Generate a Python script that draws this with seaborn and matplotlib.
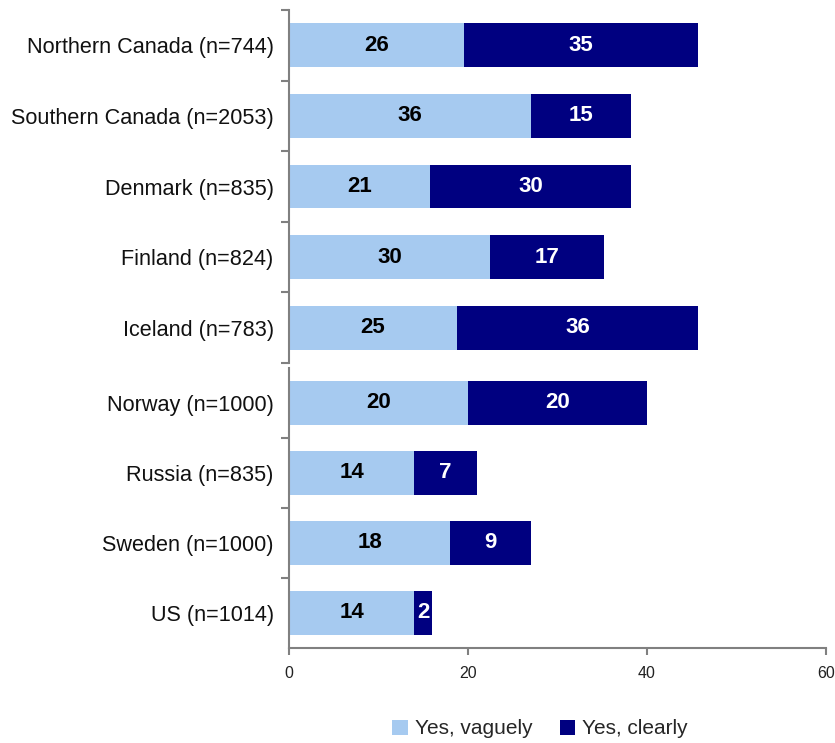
import matplotlib
matplotlib.use("Agg")
import matplotlib.pyplot as plt
from matplotlib.patches import Patch
import seaborn as sns
import pandas as pd

sns.set_style("white")
plt.rcParams["font.family"] = ["Liberation Sans", "DejaVu Sans"]

# ---- data ----
categories_top = ["Northern Canada (n=744)", "Southern Canada (n=2053)", "Denmark (n=835)",
                  "Finland (n=824)", "Iceland (n=783)"]
categories_bottom = ["Norway (n=1000)", "Russia (n=835)", "Sweden (n=1000)", "US (n=1014)"]

vague_labels_top = [26, 36, 21, 30, 25]
clear_labels_top = [35, 15, 30, 17, 36]
vague_labels_bottom = [20, 14, 18, 14]
clear_labels_bottom = [20, 7, 9, 2]

# bar lengths
vague_len_top = [19.5, 27.0, 15.75, 22.5, 18.75]
clear_len_top = [26.25, 11.25, 22.5, 12.75, 27.0]
vague_len_bottom = [20, 14, 18, 14]
clear_len_bottom = [20, 7, 9, 2]

x_ticks = [0, 20, 40, 60]
legend_labels = ["Yes, vaguely", "Yes, clearly"]

LIGHT = "#A6CAF0"
DARK = "#000080"
AXC = "#808080"

W, H = 835, 743
fig = plt.figure(figsize=(W / 100, H / 100), dpi=100)

def make_ax(top_px, bot_px):
    return fig.add_axes([289 / W, 1 - bot_px / H, (826 - 289) / W, (bot_px - top_px) / H])

ax_top = make_ax(10, 363)
ax_bot = make_ax(368, 648)

def draw(ax, cats, vlen, clen, vlab, clab, height):
    df = pd.DataFrame({"cat": cats, "vague": vlen, "total": [a + b for a, b in zip(vlen, clen)]})
    sns.barplot(data=df, y="cat", x="total", color=DARK, width=height, ax=ax,
                saturation=1, orient="h", order=cats)
    sns.barplot(data=df, y="cat", x="vague", color=LIGHT, width=height, ax=ax,
                saturation=1, orient="h", order=cats)
    n = len(cats)
    dark_patches = ax.patches[:n]
    light_patches = ax.patches[n:2 * n]
    for p in ax.patches:
        p.set_edgecolor("none")
    for p, t in zip(light_patches, vlab):
        ax.text(p.get_x() + p.get_width() / 2, p.get_y() + p.get_height() / 2, str(t),
                ha="center", va="center", color="black", fontsize=16, fontweight="bold")
    for pl, pd_, t in zip(light_patches, dark_patches, clab):
        x0 = pl.get_x() + pl.get_width()
        x1 = pd_.get_x() + pd_.get_width()
        ax.text((x0 + x1) / 2, pd_.get_y() + pd_.get_height() / 2, str(t),
                ha="center", va="center", color="white", fontsize=16, fontweight="bold")
    ax.set_xlim(0, 60)
    ax.set_ylim(n - 0.5, -0.5)
    ax.set_xlabel("")
    ax.set_ylabel("")
    for s in ["top", "right"]:
        ax.spines[s].set_visible(False)
    ax.spines["left"].set_color(AXC)
    ax.spines["left"].set_linewidth(1.5)
    ax.tick_params(axis="y", which="major", length=0, pad=11)
    ax.set_yticks(range(n))
    ax.set_yticklabels(cats, fontsize=15.6, color="#111111")
    ax.grid(False)

draw(ax_top, categories_top, vague_len_top, clear_len_top, vague_labels_top, clear_labels_top, 0.62)
draw(ax_bot, categories_bottom, vague_len_bottom, clear_len_bottom, vague_labels_bottom, clear_labels_bottom, 0.63)

ax_top.set_yticks([i - 0.5 for i in range(6)], minor=True)
ax_top.tick_params(axis="y", which="minor", length=6, width=1.5, color=AXC, direction="out", left=True)
ax_top.spines["bottom"].set_visible(False)
ax_top.set_xticks([])

ax_bot.set_yticks([0.5, 1.5, 2.5], minor=True)
ax_bot.tick_params(axis="y", which="minor", length=6, width=1.5, color=AXC, direction="out", left=True)
ax_bot.spines["bottom"].set_color(AXC)
ax_bot.spines["bottom"].set_linewidth(1.5)
ax_bot.set_xticks(x_ticks)
ax_bot.set_xticklabels([str(v) for v in x_ticks], fontsize=11.5, color="#222222")
ax_bot.tick_params(axis="x", which="major", length=5, width=1.5, color=AXC, direction="out",
                   bottom=True, pad=8)

handles = [Patch(facecolor=LIGHT, edgecolor="none"), Patch(facecolor=DARK, edgecolor="none")]
fig.legend(handles, legend_labels, loc="center", bbox_to_anchor=(540 / W, 1 - 729 / H), ncol=2,
           frameon=False, prop={"size": 15}, handlelength=0.75, handleheight=0.75,
           handletextpad=0.35, columnspacing=1.3)

fig.savefig("out.png", dpi=100)
